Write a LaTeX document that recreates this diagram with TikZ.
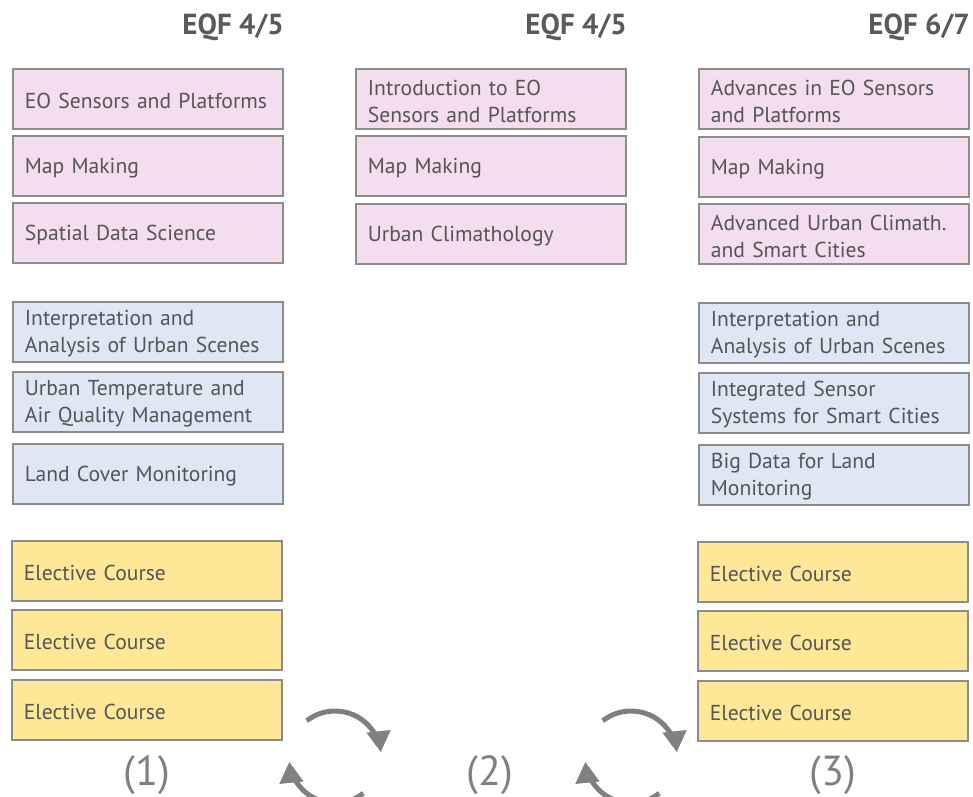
\documentclass[tikz,border=0pt]{standalone}
\usepackage{fontspec}
\setmainfont{PT Sans}
\usetikzlibrary{arrows.meta}
\hyphenpenalty=10000
\exhyphenpenalty=10000
\hbadness=10000
\hfuzz=20pt
\definecolor{pinkf}{RGB}{243,221,238}
\definecolor{bluef}{RGB}{222,232,244}
\definecolor{yellowf}{RGB}{254,232,152}
\definecolor{boxline}{RGB}{140,140,140}
\definecolor{txt}{RGB}{85,85,85}
\definecolor{hdr}{RGB}{90,90,90}
\definecolor{arrowc}{RGB}{128,128,128}
\begin{document}
\begin{tikzpicture}[x=1pt,y=-1pt,
  course/.style={draw=boxline, line width=1.8pt, text width=246pt, align=left,
    inner xsep=12pt, inner ysep=0pt, minimum height=60pt, anchor=north west,
    text=txt, font=\fontsize{21.6}{27}\selectfont,
    execute at begin node={\rule{0pt}{19.5pt}}},
  pinkbox/.style={course, fill=pinkf},
  bluebox/.style={course, fill=bluef},
  yellowbox/.style={course, fill=yellowf},
  header/.style={anchor=east, inner sep=0pt, text=hdr, font=\fontsize{29}{32}\selectfont\bfseries},
  pathlabel/.style={text=arrowc, font=\fontsize{42}{44}\selectfont},
  cyc/.style={draw=arrowc, line width=5pt, -{Triangle[length=21pt,width=23pt]}}
]
\useasboundingbox (0,0) rectangle (973,796);

% headers
\node[header] (h1) at (284,27) {EQF 4/5};
\node[header] (h2) at (627,27) {EQF 4/5};
\node[header] (h3) at (970,27) {EQF 6/7};

% column 1
\node[pinkbox] (a1) at (12,68) {EO Sensors and Platforms};
\node[pinkbox] (a2) at (12,135) {Map Making};
\node[pinkbox] (a3) at (12,202) {Spatial Data Science};
\node[bluebox] (a4) at (12,301) {Interpretation and\\Analysis of Urban Scenes};
\node[bluebox] (a5) at (12,371) {Urban Temperature and\\Air Quality Management};
\node[bluebox] (a6) at (12,443) {Land Cover Monitoring};
\node[yellowbox] (a7) at (11,540) {Elective Course};
\node[yellowbox] (a8) at (11,609) {Elective Course};
\node[yellowbox] (a9) at (11,679) {Elective Course};

% column 2
\node[pinkbox] (b1) at (355,68) {Introduction to EO\\Sensors and Platforms};
\node[pinkbox] (b2) at (355,135) {Map Making};
\node[pinkbox] (b3) at (355,203) {Urban Climathology};

% column 3
\node[pinkbox] (c1) at (698,68) {Advances in EO Sensors\\and Platforms};
\node[pinkbox] (c2) at (698,136) {Map Making};
\node[pinkbox] (c3) at (698,203) {Advanced Urban Climath.\\and Smart Cities};
\node[bluebox] (c4) at (698,302) {Interpretation and\\Analysis of Urban Scenes};
\node[bluebox] (c5) at (698,372) {Integrated Sensor\\Systems for Smart Cities};
\node[bluebox] (c6) at (698,444) {Big Data for Land\\Monitoring};
\node[yellowbox] (c7) at (697,541) {Elective Course};
\node[yellowbox] (c8) at (697,610) {Elective Course};
\node[yellowbox] (c9) at (697,680) {Elective Course};

% path labels
\node[pathlabel] (l1) at (147,775) {(1)};
\node[pathlabel] (l2) at (490,775) {(2)};
\node[pathlabel] (l3) at (833,775) {(3)};

% cycle arrows
\coordinate (k1) at (335,757);
\coordinate (k2) at (631,757);
\foreach \k in {k1,k2}{
  \draw[cyc] (\k) ++(-128:46) arc[start angle=-128, end angle=-6, radius=46];
  \draw[cyc] (\k) ++(52:46) arc[start angle=52, end angle=174, radius=46];
}
\end{tikzpicture}
\end{document}
